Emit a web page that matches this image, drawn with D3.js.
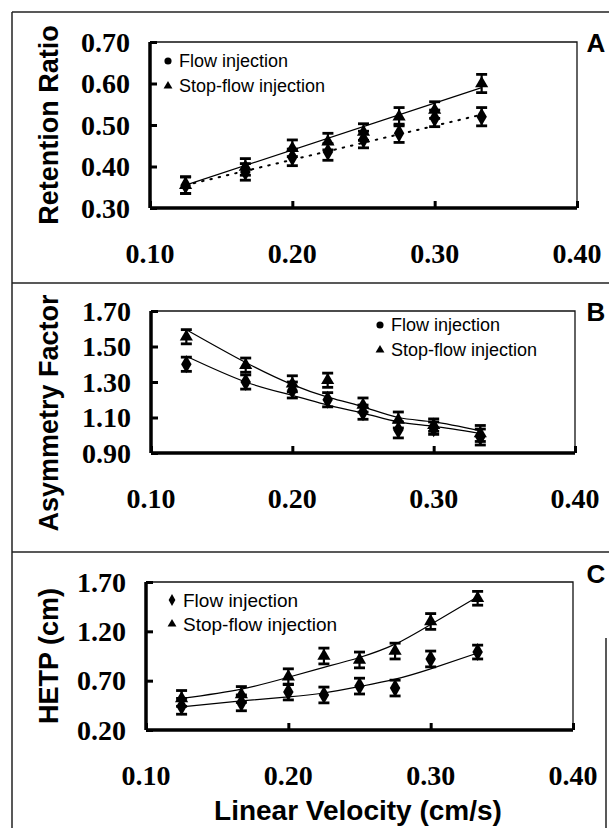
<!DOCTYPE html>
<html lang="en">
<head>
<meta charset="utf-8">
<title>Retention, asymmetry and HETP vs linear velocity</title>
<script src="https://cdn.jsdelivr.net/npm/d3@7"></script>
<style>
  body { margin: 0; background: #fff; }
  .tick-label { font-family: "Liberation Serif", "Times New Roman", serif; font-weight: bold; font-size: 28px; }
  .axis-title { font-family: "Liberation Sans", Arial, sans-serif; font-weight: bold; font-size: 27px; }
  .legend { font-family: "Liberation Sans", Arial, sans-serif; font-size: 18px; }
  .letter { font-family: "Liberation Sans", Arial, sans-serif; font-weight: bold; font-size: 26px; }
</style>
</head>
<body>
<script>
// linear velocity (cm/s) for every measured point
var velocity = [0.125, 0.167, 0.200, 0.225, 0.250, 0.275, 0.300, 0.333];
var xTicks = [0.10, 0.20, 0.30, 0.40];

// panel A - retention ratio
var retentionFlow = [0.355, 0.387, 0.422, 0.435, 0.465, 0.480, 0.516, 0.520];
var retentionStop = [0.355, 0.399, 0.444, 0.460, 0.483, 0.520, 0.536, 0.600];
var retentionErr = [0.020, 0.020, 0.020, 0.020, 0.020, 0.022, 0.020, 0.022];
var retentionFitFlow = [0.355, 0.525];   // at first and last velocity
var retentionFitStop = [0.355, 0.590];
var retentionTicks = [0.30, 0.40, 0.50, 0.60, 0.70];

// panel B - asymmetry factor
var asymFlow = [1.40, 1.30, 1.255, 1.20, 1.13, 1.03, 1.04, 0.99];
var asymStop = [1.555, 1.395, 1.29, 1.31, 1.17, 1.086, 1.057, 1.01];
var asymErr = [0.04, 0.04, 0.045, 0.04, 0.04, 0.045, 0.035, 0.045];
var asymFitFlow = [1.445, 1.30, 1.225, 1.17, 1.125, 1.075, 1.05, 1.01];
var asymFitStop = [1.595, 1.41, 1.285, 1.215, 1.16, 1.10, 1.075, 1.025];
var asymTicks = [0.90, 1.10, 1.30, 1.50, 1.70];

// panel C - HETP (cm)
var hetpFlow = [0.44, 0.475, 0.585, 0.555, 0.645, 0.625, 0.92, 0.99];
var hetpStop = [0.52, 0.56, 0.74, 0.95, 0.91, 1.00, 1.30, 1.535];
var hetpErr = [0.08, 0.08, 0.08, 0.08, 0.08, 0.08, 0.08, 0.07];
var hetpFitFlow = [0.435, 0.495, 0.535, 0.575, 0.64, 0.715, 0.82, 0.98];
var hetpFitStop = [0.52, 0.615, 0.735, 0.835, 0.935, 1.07, 1.27, 1.55];
var hetpTicks = [0.20, 0.70, 1.20, 1.70];

var width = 609, height = 828;

var svg = d3.select("body").append("svg")
    .attr("width", width)
    .attr("height", height);

// outer frame of the three panels
var frame = svg.append("g").attr("stroke", "#222").attr("stroke-width", 1.5);
frame.append("line").attr("x1", 12).attr("y1", 12).attr("x2", 12).attr("y2", height);
[12, 283, 552].forEach(function(y) {
    frame.append("line").attr("x1", 12).attr("y1", y).attr("x2", width).attr("y2", y);
});
frame.append("line").attr("x1", 606).attr("y1", 638).attr("x2", 606).attr("y2", height);

var panels = [
    { letter: "A", title: "Retention Ratio", left: 150, right: 577, top: 42, bottom: 208,
      domain: [0.30, 0.70], ticks: retentionTicks, flow: retentionFlow, stop: retentionStop,
      err: retentionErr, fitFlow: retentionFitFlow, fitStop: retentionFitStop,
      fitX: [velocity[0], velocity[velocity.length - 1]], dottedFlow: true,
      legendX: 168, legendY: 61, legendDy: 25, legendMarker: d3.symbolCircle, titleY: 125 },
    { letter: "B", title: "Asymmetry Factor", left: 151, right: 575, top: 311, bottom: 453,
      domain: [0.90, 1.70], ticks: asymTicks, flow: asymFlow, stop: asymStop,
      err: asymErr, fitFlow: asymFitFlow, fitStop: asymFitStop, fitX: velocity,
      dottedFlow: false,
      legendX: 380, legendY: 325, legendDy: 25, legendMarker: d3.symbolCircle, titleY: 413 },
    { letter: "C", title: "HETP (cm)", left: 146, right: 573, top: 582, bottom: 730,
      domain: [0.20, 1.70], ticks: hetpTicks, flow: hetpFlow, stop: hetpStop,
      err: hetpErr, fitFlow: hetpFitFlow, fitStop: hetpFitStop, fitX: velocity,
      dottedFlow: false,
      legendX: 172, legendY: 600, legendDy: 24, legendMarker: d3.symbolDiamond, titleY: 656 }
];

panels.forEach(drawPanel);

svg.append("text")
    .attr("class", "axis-title")
    .attr("x", 358).attr("y", 820)
    .attr("text-anchor", "middle")
    .style("font-size", "28px")
    .text("Linear Velocity (cm/s)");

function drawPanel(p) {
    var g = svg.append("g");

    var xScale = d3.scaleLinear().domain([0.10, 0.40]).range([p.left, p.right]);
    var yScale = d3.scaleLinear().domain(p.domain).range([p.bottom, p.top]);

    // thin top and right border of the plot box
    g.append("path")
        .attr("d", "M" + p.left + "," + p.top + "H" + p.right + "V" + p.bottom)
        .attr("fill", "none").attr("stroke", "#111").attr("stroke-width", 1.3);

    // y axis, ticks pointing into the plot
    var yAxis = d3.axisRight(yScale).tickValues(p.ticks).tickSize(7).tickFormat("");
    var yg = g.append("g").attr("transform", "translate(" + p.left + ",0)").call(yAxis);
    yg.select(".domain").attr("stroke-width", 3.5).attr("d", "M0," + p.top + "V" + p.bottom);
    yg.selectAll(".tick line").attr("stroke-width", 3);

    // x axis, ticks pointing up
    var xAxis = d3.axisTop(xScale).tickValues(xTicks).tickSize(7).tickFormat("");
    var xg = g.append("g").attr("transform", "translate(0," + p.bottom + ")").call(xAxis);
    xg.select(".domain").attr("stroke-width", 3.5).attr("d", "M" + p.left + ",0H" + p.right);
    xg.selectAll(".tick line").attr("stroke-width", 3);

    // tick labels sit well away from the box, as in the original
    g.selectAll(".ylab").data(p.ticks).enter().append("text")
        .attr("class", "tick-label")
        .attr("x", p.left - 20)
        .attr("y", function(d) { return yScale(d); })
        .attr("dy", "0.35em")
        .attr("text-anchor", "end")
        .text(function(d) { return d.toFixed(2); });

    g.selectAll(".xlab").data(xTicks).enter().append("text")
        .attr("class", "tick-label")
        .attr("x", function(d) { return xScale(d); })
        .attr("y", p.bottom + 45)
        .attr("dy", "0.35em")
        .attr("text-anchor", "middle")
        .text(function(d) { return d.toFixed(2); });

    // axis title
    g.append("text")
        .attr("class", "axis-title")
        .attr("transform", "translate(58," + p.titleY + ") rotate(-90)")
        .attr("text-anchor", "middle")
        .text(p.title);

    // panel letter
    g.append("text")
        .attr("class", "letter")
        .attr("x", 596).attr("y", p.top + (p.letter === "C" ? -8 : 1))
        .attr("dy", "0.35em")
        .attr("text-anchor", "middle")
        .text(p.letter);

    // fitted curves
    var line = d3.line()
        .x(function(d) { return xScale(d[0]); })
        .y(function(d) { return yScale(d[1]); })
        .curve(d3.curveNatural);

    g.append("path")
        .attr("d", line(d3.zip(p.fitX, p.fitStop)))
        .attr("fill", "none").attr("stroke", "#000").attr("stroke-width", 1.2);

    g.append("path")
        .attr("d", line(d3.zip(p.fitX, p.fitFlow)))
        .attr("fill", "none").attr("stroke", "#000")
        .attr("stroke-width", p.dottedFlow ? 2 : 1.2)
        .attr("stroke-dasharray", p.dottedFlow ? "1.5,7" : null)
        .attr("stroke-linecap", "round");

    // error bars and markers for both series
    [["flow", d3.symbolDiamond, 95], ["stop", d3.symbolTriangle, 75]].forEach(function(s) {
        var values = p[s[0]];
        var pts = velocity.map(function(v, i) { return { x: v, y: values[i], e: p.err[i] }; });

        var bars = g.append("g").attr("stroke", "#000").attr("stroke-width", 2.2);
        bars.selectAll("line.v").data(pts).enter().append("line")
            .attr("x1", function(d) { return xScale(d.x); })
            .attr("x2", function(d) { return xScale(d.x); })
            .attr("y1", function(d) { return yScale(d.y - d.e); })
            .attr("y2", function(d) { return yScale(d.y + d.e); });
        bars.selectAll("line.lo").data(pts).enter().append("line")
            .attr("x1", function(d) { return xScale(d.x) - 5.5; })
            .attr("x2", function(d) { return xScale(d.x) + 5.5; })
            .attr("y1", function(d) { return yScale(d.y - d.e); })
            .attr("y2", function(d) { return yScale(d.y - d.e); })
            .attr("stroke-width", 2.8);
        bars.selectAll("line.hi").data(pts).enter().append("line")
            .attr("x1", function(d) { return xScale(d.x) - 5.5; })
            .attr("x2", function(d) { return xScale(d.x) + 5.5; })
            .attr("y1", function(d) { return yScale(d.y + d.e); })
            .attr("y2", function(d) { return yScale(d.y + d.e); })
            .attr("stroke-width", 2.8);

        g.selectAll(null).data(pts).enter().append("path")
            .attr("d", d3.symbol().type(s[1]).size(s[2]))
            .attr("transform", function(d) {
                return "translate(" + xScale(d.x) + "," + yScale(d.y) + ")";
            })
            .attr("fill", "#000");
    });

    // legend
    var lg = g.append("g").attr("transform", "translate(" + p.legendX + "," + p.legendY + ")");
    lg.append("path").attr("d", d3.symbol().type(p.legendMarker).size(40)).attr("fill", "#000");
    lg.append("path").attr("d", d3.symbol().type(d3.symbolTriangle).size(34))
        .attr("transform", "translate(0," + p.legendDy + ")").attr("fill", "#000");
    lg.append("text").attr("class", "legend").attr("x", 11).attr("y", 0).attr("dy", "0.36em")
        .style("font-size", p.letter === "C" ? "19px" : null)
        .text("Flow injection");
    lg.append("text").attr("class", "legend").attr("x", 11).attr("y", p.legendDy).attr("dy", "0.36em")
        .style("font-size", p.letter === "C" ? "19px" : null)
        .text("Stop-flow injection");
}
</script>
</body>
</html>
